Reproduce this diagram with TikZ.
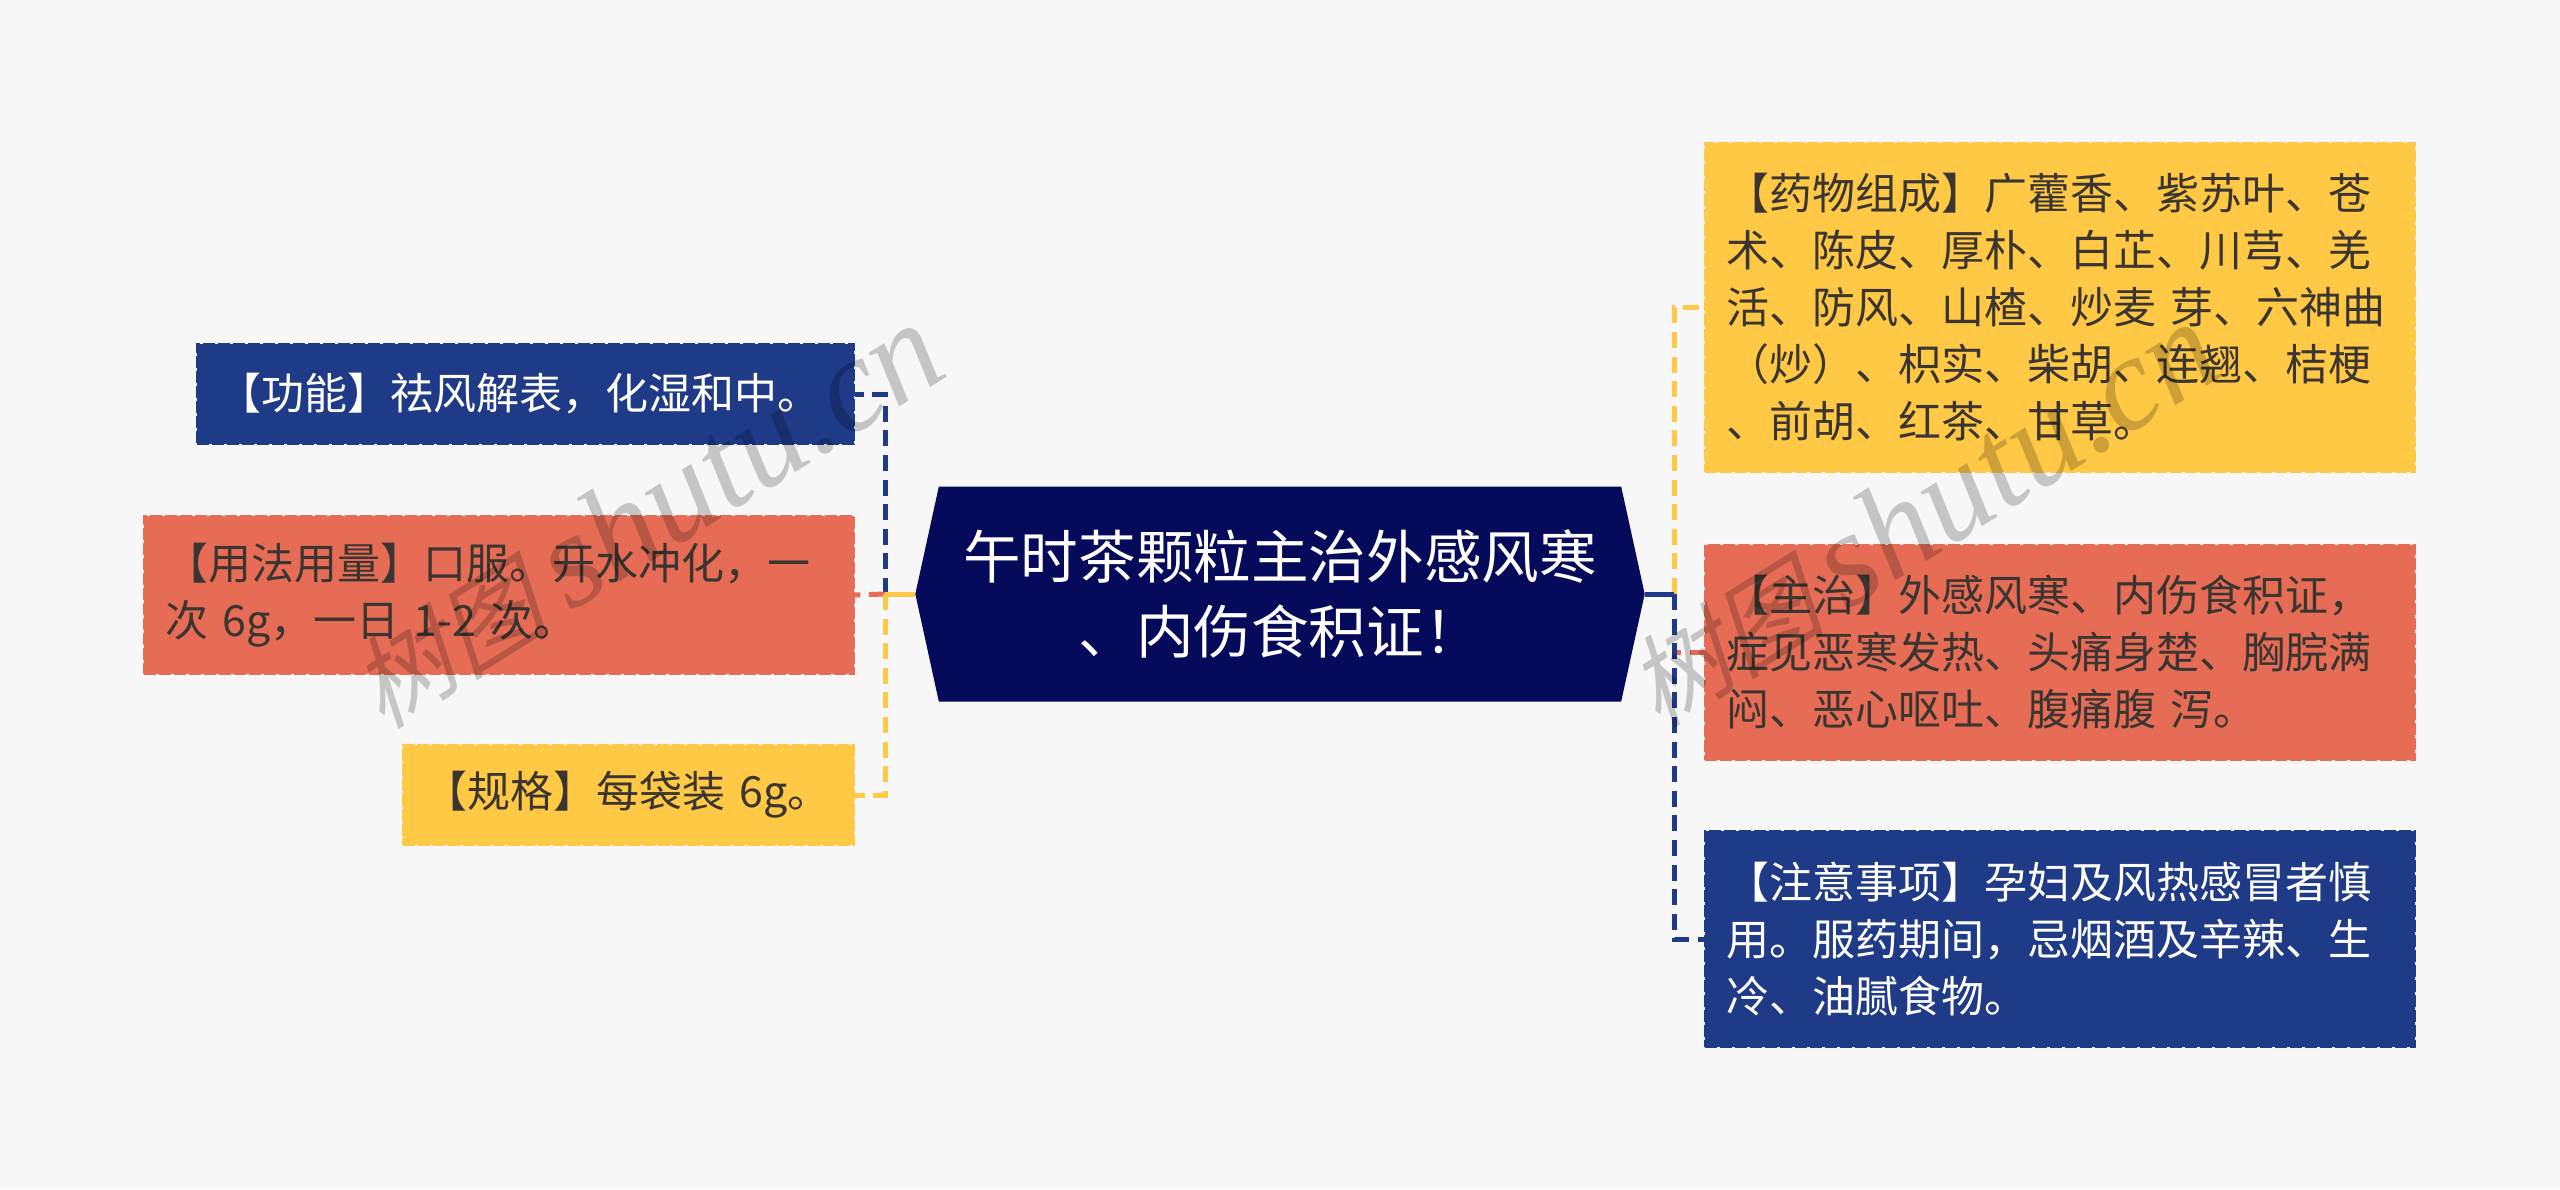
\documentclass[tikz,border=0pt]{standalone}
\usepackage{fontspec}
\setmainfont{Noto Sans CJK SC}
\newfontfamily\wmcjk[FakeSlant=0.25]{Noto Sans CJK SC}
\newfontfamily\wmlatin{Liberation Serif}
\usetikzlibrary{shapes.symbols}
\definecolor{pagegrey}{HTML}{F7F7F7}
\definecolor{rootnavy}{HTML}{050A5A}
\definecolor{itemblue}{HTML}{1F3A87}
\definecolor{itemred}{HTML}{E66C56}
\definecolor{itemyellow}{HTML}{FFC845}
\definecolor{inkdark}{HTML}{3A3530}
\tikzset{
  itembox/.style={rectangle,anchor=north west,align=left,inner xsep=10.75pt,inner ysep=0pt,
    line width=1pt,dash pattern=on 6pt off 1.5pt,
    font=\fontsize{21.5}{28.5}\selectfont},
  blueitem/.style={itembox,draw=itemblue,fill=itemblue,text=white},
  reditem/.style={itembox,draw=itemred,fill=itemred,text=inkdark},
  yellowitem/.style={itembox,draw=itemyellow,fill=itemyellow,text=inkdark},
  rootbox/.style={signal,signal to=east and west,signal pointer angle=155.3,fill=rootnavy,text=white,
    align=center,inner sep=0pt,minimum height=107.5pt,minimum width=364.7pt,
    font=\fontsize{28.8}{37.5}\selectfont},
  stublink/.style={line width=2.5pt,dash pattern=on 8pt off 4.3pt},
  rootlink/.style={line width=2.5pt},
  wmark/.style={rotate=32,text=black,opacity=0.2,inner sep=0pt,font=\fontsize{50}{60}\selectfont}
}
\begin{document}
\begin{tikzpicture}[x=0.5pt,y=0.5pt,yscale=-1,xscale=1]
\useasboundingbox (0,0) rectangle (2560,1189);
%Shape: Rectangle
\fill [pagegrey] (0,0) rectangle (2560,1189);

% Root Node
\node (root) [rootbox] at (1280,594) {午时茶颗粒主治外感风寒\\、内伤食积证！};

% Left Nodes
\node (gongneng) [blueitem,text width=306.75pt,minimum height=50pt] at (196,343) {【功能】祛风解表，化湿和中。};
\node (yongfa) [reditem,text width=333.5pt,minimum height=79pt] at (142.5,515) {【用法用量】口服。开水冲化，一\\次 6g，一日 1-2 次。};
\node (guige) [yellowitem,text width=203.75pt,minimum height=50pt] at (402,744) {【规格】每袋装 6g。};

% Right Nodes
\node (zucheng) [yellowitem,text width=333.5pt,minimum height=164.5pt] at (1704,142) {【药物组成】广藿香、紫苏叶、苍\\术、陈皮、厚朴、白芷、川芎、羌\\活、防风、山楂、炒麦 芽、六神曲\\（炒）、枳实、柴胡、连翘、桔梗\\、前胡、红茶、甘草。};
\node (zhuzhi) [reditem,text width=333.5pt,minimum height=107.3pt] at (1704,544) {【主治】外感风寒、内伤食积证，\\症见恶寒发热、头痛身楚、胸脘满\\闷、恶心呕吐、腹痛腹 泻。};
\node (zhuyi) [blueitem,text width=333.5pt,minimum height=108pt] at (1704,830) {【注意事项】孕妇及风热感冒者慎\\用。服药期间，忌烟酒及辛辣、生\\冷、油腻食物。};

%Straight Lines
\coordinate (jointL) at (885,594);
\coordinate (jointR) at (1674,594);
\draw [stublink,color=itemblue] (jointL) |- (gongneng.east);
\draw [stublink,color=itemred] (jointL) -- (yongfa.east);
\draw [stublink,color=itemyellow] (jointL) |- (guige.east);
\draw [rootlink,color=itemyellow] (root.west) -- (jointL);
\draw [stublink,color=itemyellow] (jointR) |- (zucheng.west);
\draw [stublink,color=itemred] (jointR) |- (zhuzhi.west);
\draw [stublink,color=itemblue] (jointR) |- (zhuyi.west);
\draw [rootlink,color=itemblue] (root.east) -- (jointR);

% Text Node
\node (markL) [wmark] at (645,516) {{\wmcjk 树图} {\wmlatin\fontsize{67}{72}\selectfont\itshape shutu.cn}};
% Text Node
\node (markR) [wmark] at (1921,515) {{\wmcjk 树图} {\wmlatin\fontsize{67}{72}\selectfont\itshape shutu.cn}};

\end{tikzpicture}
\end{document}
